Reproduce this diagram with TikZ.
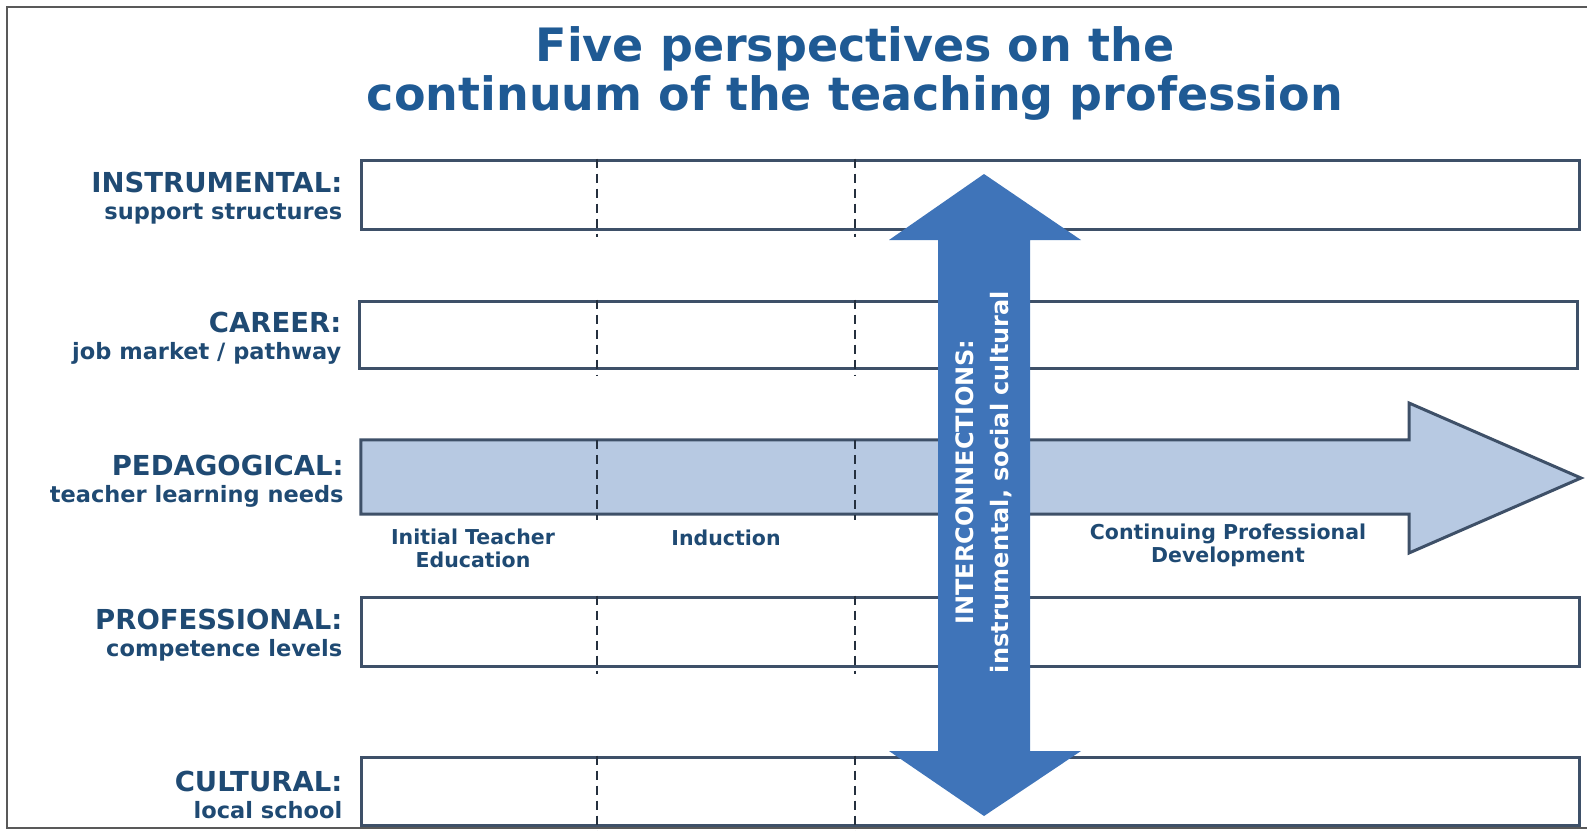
\documentclass[tikz,border=0pt]{standalone}
\usepackage{fontspec}
\setmainfont{DejaVu Sans}
\usetikzlibrary{positioning,fit}

\definecolor{titleblue}{HTML}{1F5A94}
\definecolor{labelblue}{HTML}{1F4A73}
\definecolor{linkblue}{HTML}{3F74B9}
\definecolor{pedfill}{HTML}{B7C9E2}
\definecolor{rowline}{HTML}{3E5068}

\newcommand{\rowtext}[2]{{\fontsize{27.5}{27}\selectfont #1}\\{\fontsize{22.5}{27}\selectfont #2}}

\tikzset{
  rowbox/.style={draw=rowline, line width=3pt, inner sep=0pt},
  rowlabel/.style={text=labelblue, font=\bfseries\fontsize{22.5}{27}\selectfont, align=right, inner sep=0pt},
  phase/.style={draw=rowline!60!black, line width=2.4pt, dash pattern=on 9pt off 6pt},
  phaselabel/.style={text=labelblue, font=\bfseries\fontsize{20.5}{23}\selectfont, align=center},
  linktext/.style={text=white, font=\bfseries\fontsize{24}{35}\selectfont, align=center}
}

\begin{document}
\begin{tikzpicture}[x=1pt,y=-1pt]
    \useasboundingbox (0,0) rectangle (1587,830);
    % rahmen
    \draw[gray!70!black, line width=1.5pt] (1587,7) -- (7,7) -- (7,828) -- (1587,828);

    % judul
    \node[text=titleblue, font=\bfseries\fontsize{46}{49}\selectfont, align=center] (title) at (855,73)
        {Five perspectives on the\\continuum of the teaching profession};

    % baris
    \node[rowbox, fit={(361,160) (1579,229)}] (instr) {};
    \node[rowbox, fit={(359,301) (1577,368)}] (career) {};
    \node[inner sep=0pt, fit={(361,440) (1409,514)}] (ped) {};
    \node[rowbox, fit={(361,597) (1579,666)}] (prof) {};
    \node[rowbox, fit={(361,757) (1579,825)}] (cult) {};

    % panah pedagogis
    \draw[rowline, line width=3pt, fill=pedfill] (ped.north west) -- (ped.north east) -- (1409,403)
        -- (1581,478) -- (1409,553) -- (ped.south east) -- (ped.south west) -- cycle;

    % label baris
    \node[rowlabel, left=17pt of instr, yshift=-4pt] (instrlab) {\rowtext{INSTRUMENTAL:}{support structures}};
    \node[rowlabel, left=16pt of career, yshift=-4pt] (careerlab) {\rowtext{CAREER:}{job market / pathway}};
    \node[rowlabel, left=17pt of ped, yshift=-4pt] (pedlab) {\rowtext{PEDAGOGICAL:}{teacher learning needs}};
    \node[rowlabel, left=17pt of prof, yshift=-4pt] (proflab) {\rowtext{PROFESSIONAL:}{competence levels}};
    \node[rowlabel, left=17pt of cult, yshift=-4pt] (cultlab) {\rowtext{CULTURAL:}{local school}};

    % garis fase
    \coordinate (ite) at (597,0);
    \coordinate (ind) at (855,0);
    \foreach \r in {instr,career,ped,prof,cult} {
        \draw[phase] (\r.north -| ite) -- ([yshift=-6pt]\r.south -| ite);
        \draw[phase] (\r.north -| ind) -- ([yshift=-6pt]\r.south -| ind);
    }

    % label fase
    \node[phaselabel] (itelab) at (473,548) {Initial Teacher\\Education};
    \node[phaselabel] (indlab) at (726,538) {Induction};
    \node[phaselabel] (cpdlab) at (1228,545) {Continuing Professional\\Development};

    % panah keterkaitan
    \fill[linkblue] (938,240) -- (889,240) -- (984,174) -- (1081,240) -- (1030,240) -- (1030,751)
        -- (1081,751) -- (984,816) -- (889,751) -- (938,751) -- cycle;
    \node[linktext, rotate=90] (link) at (984,482) {INTERCONNECTIONS:\\instrumental, social cultural};
\end{tikzpicture}
\end{document}
